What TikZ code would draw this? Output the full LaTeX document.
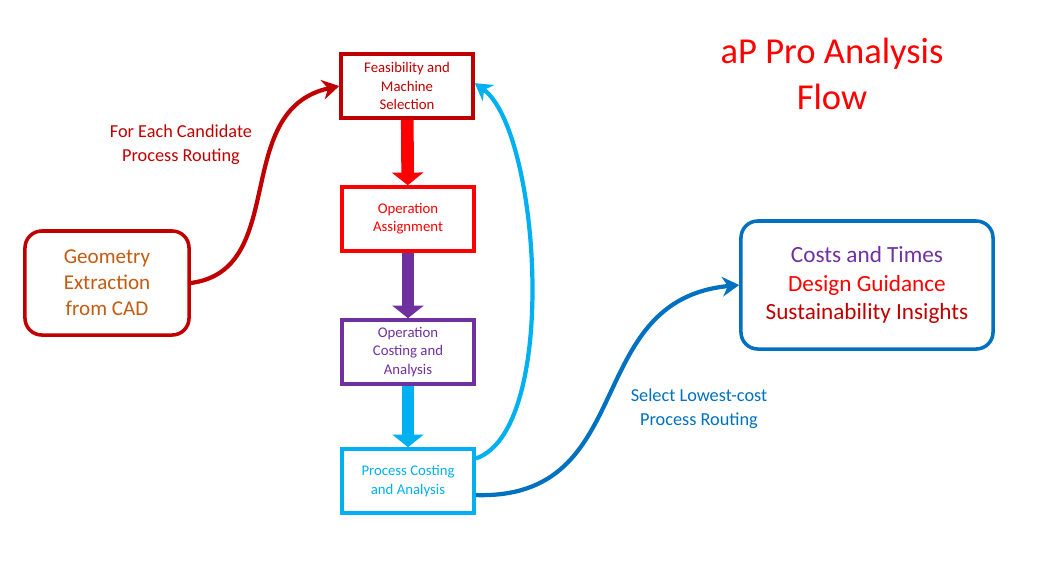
\documentclass[tikz,border=0pt]{standalone}
\usepackage{fontspec}
\setmainfont{Carlito}
\usetikzlibrary{arrows.meta,positioning}
\definecolor{dkred}{HTML}{C00000}
\definecolor{brn}{HTML}{C55A11}
\definecolor{purp}{HTML}{7030A0}
\definecolor{ltblue}{HTML}{00B0F0}
\definecolor{blu}{HTML}{0070C0}
\begin{document}
\begin{tikzpicture}[x=0.025cm,y=-0.025cm,
  stepbox/.style={draw, line width=2.5pt, minimum width=3.3cm, minimum height=1.6cm, align=center, font=\fontsize{10.5}{13}\selectfont},
  bigbox/.style={draw, line width=2.5pt, rounded corners=12pt, align=center},
  blockarrow/.style={line width=9pt, -{Triangle[width=22pt,length=9pt]}},
  curvearrow/.style={line width=3pt, -{Stealth[length=12pt,width=14pt]}}]
\useasboundingbox (0,0) rectangle (1051,568);
\node[bigbox, draw=dkred, text=brn, minimum width=4.1cm, minimum height=2.6cm, font=\fontsize{15}{18.5}\selectfont] (geom) at (107,283) {Geometry\\Extraction\\from CAD};
\node[stepbox, draw=dkred, text=dkred] (feas) at (407,86) {Feasibility and\\Machine\\Selection};
\node[stepbox, draw=red, text=red] (assign) at (408,219) {Operation\\Assignment};
\node[stepbox, draw=purp, text=purp] (opcost) at (408,352) {Operation\\Costing and\\Analysis};
\node[stepbox, draw=ltblue, text=ltblue] (proc) at (408,481) {Process Costing\\and Analysis};
\node[bigbox, draw=blu, minimum width=6.3cm, minimum height=3.2cm, font=\fontsize{16.5}{20}\selectfont] (res) at (867,285) {\textcolor{purp}{Costs and Times}\\\textcolor{red}{Design Guidance}\\\textcolor{dkred}{Sustainability Insights}};
\node[text=red, align=center, font=\fontsize{26}{33}\selectfont] (title) at (832,74) {aP Pro Analysis\\Flow};
\node[text=dkred, align=center, font=\fontsize{13}{17}\selectfont] (lbla) at (181,145) {For Each Candidate\\Process Routing};
\node[text=blu, align=center, font=\fontsize{13}{17}\selectfont] (lblb) at (699,409) {Select Lowest-cost\\Process Routing};
% flow
\draw[blockarrow, red] (feas) -- (assign);
\draw[blockarrow, purp] (assign) -- (opcost);
\draw[blockarrow, ltblue] (opcost) -- (proc);
\draw[curvearrow, dkred] (geom.east) .. controls (290,270) and (230,110) .. (feas.west);
\draw[curvearrow, ltblue] ([yshift=-8pt]proc.north east) .. controls (560,430) and (540,130) .. ([yshift=2pt]feas.east);
\draw[curvearrow, blu] ([yshift=-10pt]proc.east) .. controls (640,500) and (580,300) .. (res.west);
\end{tikzpicture}
\end{document}
